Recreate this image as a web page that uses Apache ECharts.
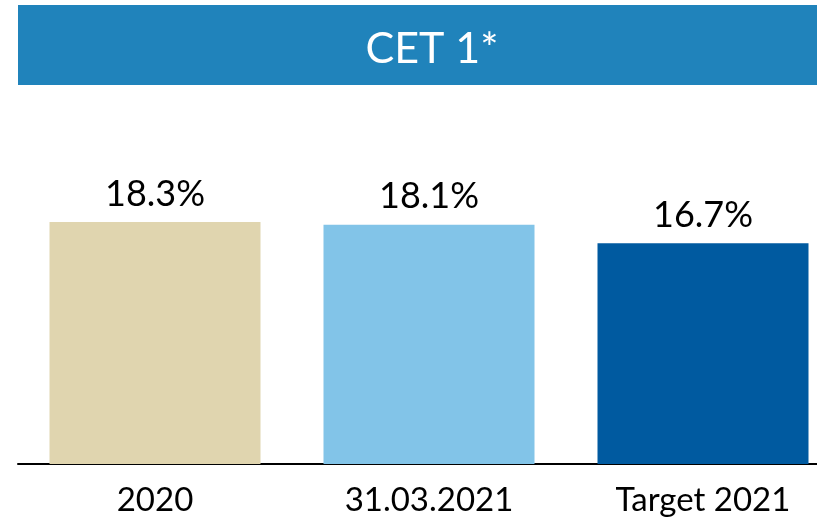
<html>
    <head>
        <meta charset="utf-8">
        <script src="https://cdn.jsdelivr.net/npm/echarts@6/dist/echarts.min.js"></script>
    </head>
    <body style="margin:0">
        <div id="main" style="width:817px;height:519px"></div>
        <script>

        var categories = ['2020', '31.03.2021', 'Target 2021'];
        var values = [18.3, 18.1, 16.7];
        var barColors = ['#E0D5AF', '#82C4E8', '#005AA0'];
        var titleText = 'CET 1*';

        var myChart = echarts.init(document.getElementById('main'));

        var option = {
            backgroundColor: '#fff',
            title: {
                text: titleText,
                left: 427,
                top: 23,
                textAlign: 'center',
                textStyle: {
                    color: '#fff',
                    fontFamily: 'Lato',
                    fontWeight: 'normal',
                    fontSize: 43
                }
            },
            graphic: [
                {
                    type: 'rect',
                    z: -1,
                    shape: { x: 18, y: 5, width: 820, height: 80 },
                    style: { fill: '#2083BB' }
                }
            ],
            grid: {
                left: 18,
                width: 822,
                top: 133.5,
                bottom: 55,
                containLabel: false,
                outerBoundsMode: 'none'
            },
            xAxis: {
                type: 'category',
                data: categories,
                axisTick: { show: false },
                axisLine: {
                    lineStyle: { color: '#000', width: 2 }
                },
                axisLabel: {
                    margin: 20,
                    color: '#000',
                    fontFamily: 'Lato',
                    fontSize: 33
                }
            },
            yAxis: {
                type: 'value',
                min: 0,
                max: 25,
                show: false,
                splitLine: { show: false }
            },
            series: [
                {
                    type: 'bar',
                    barWidth: 211,
                    data: values.map(function (v, i) {
                        return { value: v, itemStyle: { color: barColors[i] } };
                    }),
                    label: {
                        show: true,
                        position: 'top',
                        distance: 10,
                        color: '#000',
                        fontFamily: 'Lato',
                        fontSize: 36,
                        formatter: function (p) {
                            return p.value.toFixed(1) + '%';
                        }
                    }
                }
            ]
        };

        myChart.setOption(option);

        </script>
    </body>
</html>
